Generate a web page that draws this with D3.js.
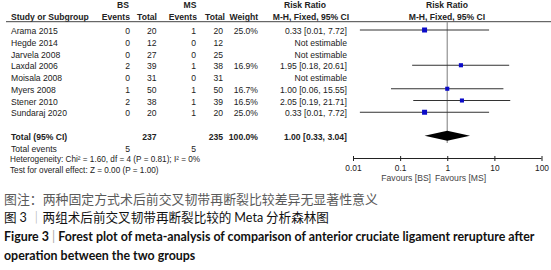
<!DOCTYPE html>
<html>
<head>
<meta charset="utf-8">
<script src="https://cdn.jsdelivr.net/npm/d3@7"></script>
<style>
  html, body { margin: 0; padding: 0; background: #fff; }
  svg { display: block; }
</style>
</head>
<body>
<div id="chart"></div>
<script>
// Forest plot data
const studies = ["Arama 2015", "Hegde 2014", "Jarvela 2008", "Laxdal 2006", "Moisala 2008", "Myers 2008", "Stener 2010", "Sundaraj 2020"];
const bsEvents = [0, 0, 0, 2, 0, 1, 2, 0];
const bsTotal = [20, 12, 27, 39, 31, 50, 38, 20];
const msEvents = [1, 0, 0, 1, 0, 1, 1, 1];
const msTotal = [20, 12, 25, 38, 31, 50, 39, 20];
const weights = [25.0, null, null, 16.9, null, 16.7, 16.5, 25.0];
const riskRatio = [0.33, null, null, 1.95, null, 1.00, 2.05, 0.33];
const ciLow = [0.014, null, null, 0.18, null, 0.064, 0.19, 0.014];
const ciHigh = [7.72, null, null, 20.61, null, 15.55, 21.71, 7.72];
const rrLabels = ["0.33 [0.01, 7.72]", "Not estimable", "Not estimable", "1.95 [0.18, 20.61]",
  "Not estimable", "1.00 [0.06, 15.55]", "2.05 [0.19, 21.71]", "0.33 [0.01, 7.72]"];

const pooled = { total1: 237, total2: 235, events1: 5, events2: 5, weight: "100.0%", rr: 1.00, lo: 0.33, hi: 3.04, label: "1.00 [0.33, 3.04]" };
const axisTicks = [0.01, 0.1, 1, 10, 100];
const axisTickLabels = ["0.01", "0.1", "1", "10", "100"];
const heterogeneityText = "Heterogeneity: Chi² = 1.60, df = 4 (P = 0.81); I² = 0%";
const overallText = "Test for overall effect: Z = 0.00 (P = 1.00)";

const W = 551, H = 270;
const font = "'Liberation Sans', Arial, sans-serif";
const ink = "#222";

const svg = d3.select("#chart").append("svg")
  .attr("width", W).attr("height", H)
  .attr("viewBox", `0 0 ${W} ${H}`)
  .style("font-family", font);

// scales
const x = d3.scaleLog().domain([0.01, 100]).range([353, 541.5]);
const row = d3.scaleLinear().domain([0, 1]).range([31, 42.75]);
const fs = 8.6;
const base = 3.1; // baseline offset from row centre

function txt(xp, yp, s, anchor = "start", opts = {}) {
  return svg.append("text")
    .attr("x", xp).attr("y", yp)
    .attr("text-anchor", anchor)
    .attr("font-family", font)
    .attr("font-size", opts.size || fs)
    .attr("font-weight", opts.bold ? "bold" : "normal")
    .attr("fill", opts.fill || ink)
    .text(s);
}

// column right edges
const col = { study: 11, e1: 130, t1: 156.5, e2: 196, t2: 223, w: 258, rr: 347 };

// headers
txt(123, 8, "BS", "middle", { bold: true });
txt(190, 8, "MS", "middle", { bold: true });
txt(305, 8, "Risk Ratio", "middle", { bold: true });
txt(447, 8, "Risk Ratio", "middle", { bold: true });
txt(col.study, 20, "Study or Subgroup", "start", { bold: true });
txt(col.e1, 20, "Events", "end", { bold: true });
txt(col.t1 + 0.5, 20, "Total", "end", { bold: true });
txt(col.e2 + 1, 20, "Events", "end", { bold: true });
txt(col.t2 + 2, 20, "Total", "end", { bold: true });
txt(col.w, 20, "Weight", "end", { bold: true });
txt(311, 20, "M-H, Fixed, 95% CI", "middle", { bold: true });
txt(447, 20, "M-H, Fixed, 95% CI", "middle", { bold: true });

svg.append("line")
  .attr("x1", 6).attr("x2", W).attr("y1", 21.7).attr("y2", 21.7)
  .attr("stroke", "#444").attr("stroke-width", 1);

// vertical line of no effect
svg.append("line")
  .attr("x1", x(1)).attr("x2", x(1)).attr("y1", 21.7).attr("y2", 143)
  .attr("stroke", "#9a9a9a").attr("stroke-width", 1.3);

// study rows
studies.forEach((s, i) => {
  const y = row(i) + base;
  txt(col.study, y, s);
  txt(col.e1, y, bsEvents[i], "end");
  txt(col.t1, y, bsTotal[i], "end");
  txt(col.e2, y, msEvents[i], "end");
  txt(col.t2, y, msTotal[i], "end");
  if (weights[i] != null) txt(col.w, y, weights[i].toFixed(1) + "%", "end");
  txt(col.rr, y, rrLabels[i], "end");
});

// CI lines and squares
const estimable = studies.map((s, i) => i).filter(i => riskRatio[i] != null);
svg.append("g").selectAll("line")
  .data(estimable)
  .join("line")
  .attr("x1", i => x(ciLow[i]))
  .attr("x2", i => x(ciHigh[i]))
  .attr("y1", i => row(i) - 1)
  .attr("y2", i => row(i) - 1)
  .attr("stroke", "#333")
  .attr("stroke-width", 1);

svg.append("g").selectAll("rect")
  .data(estimable)
  .join("rect")
  .attr("x", i => x(riskRatio[i]) - Math.sqrt(weights[i]) / 2)
  .attr("y", i => row(i) - 1 - Math.sqrt(weights[i]) / 2)
  .attr("width", i => Math.sqrt(weights[i]))
  .attr("height", i => Math.sqrt(weights[i]))
  .attr("fill", "#0b0bc8");

// totals (one blank row after the studies)
const yTot = row(9) + base;
txt(col.study, yTot, "Total (95% CI)", "start", { bold: true });
txt(col.t1, yTot, pooled.total1, "end", { bold: true });
txt(col.t2, yTot, pooled.total2, "end", { bold: true });
txt(col.w, yTot, pooled.weight, "end", { bold: true });
txt(col.rr, yTot, pooled.label, "end", { bold: true });

const yDia = row(9) - 1;
svg.append("path")
  .attr("d", `M${x(pooled.lo)},${yDia} L${x(pooled.rr)},${yDia - 5} L${x(pooled.hi)},${yDia} L${x(pooled.rr)},${yDia + 5} Z`)
  .attr("fill", "#000");

const yEv = row(10) + base;
txt(col.study, yEv, "Total events");
txt(col.e1, yEv, pooled.events1, "end");
txt(col.e2, yEv, pooled.events2, "end");

txt(10, 162, heterogeneityText, "start", { size: 8.2 });
txt(10, 172.5, overallText, "start", { size: 8.2 });

// axis
const axisY = 158.5;
const axisG = svg.append("g")
  .attr("transform", `translate(0,${axisY})`)
  .call(d3.axisBottom(x).tickValues(axisTicks).tickFormat((d, i) => axisTickLabels[i]).tickSizeOuter(0).tickPadding(1));
axisG.select(".domain").attr("stroke", "#222").attr("d", `M${x(0.01)},0H${x(100)}`);
axisG.selectAll(".tick line").attr("y1", -2.5).attr("y2", 2.5).attr("stroke", "#222");
axisG.selectAll(".tick text").attr("font-size", 8.4).attr("font-family", font).attr("fill", ink);

txt(431, 181, "Favours [BS]", "end", { size: 8.6, fill: "#444" });
txt(435, 181, "Favours [MS]", "start", { size: 8.6, fill: "#444" });

// captions
const cjk = "'Noto Sans CJK SC', sans-serif";
svg.append("text")
  .attr("x", 4).attr("y", 204)
  .attr("font-family", cjk).attr("font-size", 12.9).attr("fill", "#5a5a5a")
  .text("图注：两种固定方式术后前交叉韧带再断裂比较差异无显著性意义");

const l2 = svg.append("text")
  .attr("x", 4).attr("y", 222)
  .attr("font-family", cjk).attr("font-size", 12.6).attr("fill", "#111");
l2.append("tspan").text("图 ");
l2.append("tspan").attr("font-family", "Lato, sans-serif").text("3 ");
l2.append("tspan").attr("fill", "#aaa").text("｜");
l2.append("tspan").text("两组术后前交叉韧带再断裂比较的 ");
l2.append("tspan").attr("font-family", "Lato, sans-serif").text("Meta");
l2.append("tspan").text(" 分析森林图");

const l3 = svg.append("text")
  .attr("x", 4).attr("y", 241)
  .attr("font-family", "Lato, sans-serif").attr("font-weight", "bold").attr("font-size", 12.4).attr("fill", "#111");
l3.append("tspan").text("Figure 3 ");
l3.append("tspan").attr("fill", "#aaa").attr("font-weight", "normal").text(" | ");
l3.append("tspan").text(" Forest plot of meta-analysis of comparison of anterior cruciate ligament rerupture after");

svg.append("text")
  .attr("x", 4).attr("y", 260)
  .attr("font-family", "Lato, sans-serif").attr("font-weight", "bold").attr("font-size", 12.4).attr("fill", "#111")
  .text("operation between the two groups");
</script>
</body>
</html>
